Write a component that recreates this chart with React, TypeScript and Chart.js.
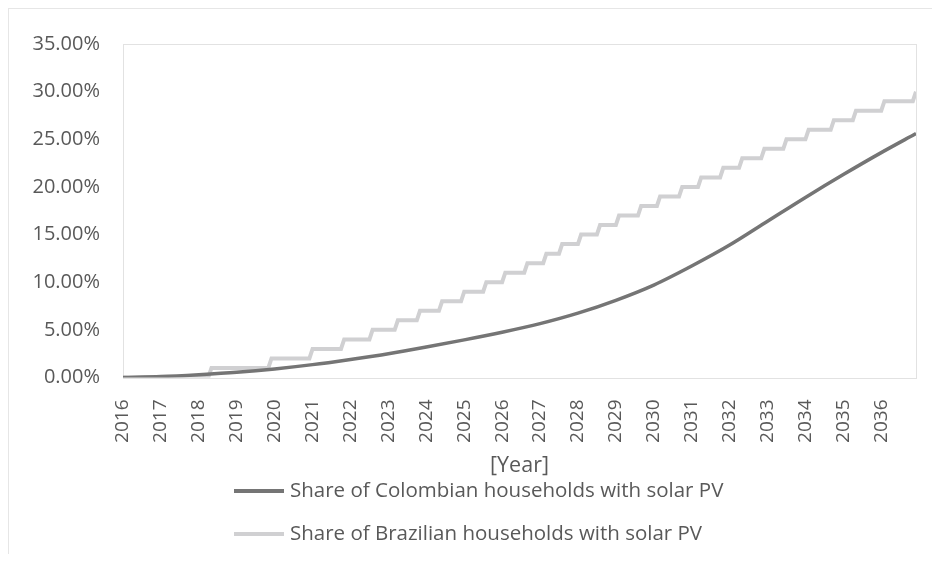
import { useEffect, useRef } from "react";
import { Chart, registerables } from "chart.js";

Chart.register(...registerables);

// ---- data ----
const startYear = 2016;
const lastMonthIndex = 251; // Dec 2036 (months counted from Jan 2016)
const yearTickLabels = [
  "2016", "2017", "2018", "2019", "2020", "2021", "2022", "2023", "2024", "2025",
  "2026", "2027", "2028", "2029", "2030", "2031", "2032", "2033", "2034", "2035", "2036",
];

const seriesNames = [
  "Share of Colombian households with solar PV",
  "Share of Brazilian households with solar PV",
];

// Colombian share (%) read at month indexes
const colombiaMonths = [0, 12, 24, 36, 48, 60, 72, 84, 96, 108, 120, 132, 144, 156, 168, 180, 192, 204, 216, 228, 240, 251];
const colombiaValues = [0, 0.1, 0.3, 0.55, 0.9, 1.35, 1.9, 2.5, 3.2, 3.95, 4.75, 5.65, 6.75, 8.1, 9.7, 11.7, 13.9, 16.4, 18.9, 21.3, 23.6, 25.6];

// Brazilian share (%) : month index at which each level is reached
const brazilStepMonths = [28, 47, 60, 70, 79, 87, 94, 101, 108, 115, 121, 128, 134, 139, 145, 151, 157, 164, 170, 177, 183, 190, 196, 203, 210, 217, 225, 232, 241, 251];
const brazilStepValues = [1, 2, 3, 4, 5, 6, 7, 8, 9, 10, 11, 12, 13, 14, 15, 16, 17, 18, 19, 20, 21, 22, 23, 24, 25, 26, 27, 28, 29, 30];

const yTickStep = 5;
const yMax = 35;

// ---- styles ----
const textColor = "#595959";
const fontFamily = "'Open Sans', 'Noto Sans', sans-serif";
const colColombia = "#757575";
const colBrazil = "#d0d0d2";

function buildColombia() {
  return colombiaMonths.map((m, i) => ({ x: m, y: colombiaValues[i] }));
}

function buildBrazil() {
  const pts: { x: number; y: number }[] = [{ x: 0, y: 0 }];
  let prev = 0;
  brazilStepMonths.forEach((m, i) => {
    pts.push({ x: m - 1, y: prev });
    pts.push({ x: m, y: brazilStepValues[i] });
    prev = brazilStepValues[i];
  });
  if (pts[pts.length - 1].x < lastMonthIndex) pts.push({ x: lastMonthIndex, y: prev });
  return pts;
}

const plotBorder = {
  id: "plotBorder",
  beforeDatasetsDraw(chart: any) {
    const { ctx, chartArea } = chart;
    ctx.save();
    ctx.strokeStyle = "#e2e2e2";
    ctx.lineWidth = 1;
    ctx.strokeRect(
      Math.round(chartArea.left) + 0.5,
      Math.round(chartArea.top) + 0.5,
      Math.round(chartArea.right - chartArea.left),
      Math.round(chartArea.bottom - chartArea.top)
    );
    ctx.restore();
  },
};

const stackedLegend = {
  id: "stackedLegend",
  afterDraw(chart: any) {
    const { ctx } = chart;
    const rows = [482, 525];
    ctx.save();
    chart.data.datasets.forEach((ds: any, i: number) => {
      const y = rows[i];
      ctx.strokeStyle = ds.borderColor;
      ctx.lineWidth = 4;
      ctx.beginPath();
      ctx.moveTo(225, y);
      ctx.lineTo(275, y);
      ctx.stroke();
      ctx.fillStyle = textColor;
      ctx.font = `20.5px ${fontFamily}`;
      ctx.textBaseline = "middle";
      ctx.textAlign = "left";
      ctx.fillText(ds.label, 281, y);
    });
    ctx.restore();
  },
};

export default function App() {
  const canvasRef = useRef<HTMLCanvasElement | null>(null);

  useEffect(() => {
    if (!canvasRef.current) return;
    const chart = new Chart(canvasRef.current, {
      type: "line",
      data: {
        datasets: [
          {
            label: seriesNames[0],
            data: buildColombia(),
            borderColor: colColombia,
            borderWidth: 3.5,
            pointRadius: 0,
            cubicInterpolationMode: "monotone",
            fill: false,
          },
          {
            label: seriesNames[1],
            data: buildBrazil(),
            borderColor: colBrazil,
            borderWidth: 4,
            pointRadius: 0,
            tension: 0,
            fill: false,
          },
        ],
      },
      options: {
        animation: false,
        responsive: true,
        maintainAspectRatio: false,
        parsing: false as any,
        layout: { padding: { top: 29, right: 16, bottom: 72, left: 0 } },
        plugins: {
          legend: { display: false },
          tooltip: { enabled: false },
        },
        scales: {
          x: {
            type: "linear",
            min: 0,
            max: lastMonthIndex,
            grid: { display: false, drawTicks: false },
            border: { display: false },
            ticks: {
              stepSize: 12,
              includeBounds: false,
              autoSkip: false,
              maxRotation: 90,
              minRotation: 90,
              padding: 22,
              color: textColor,
              font: { family: fontFamily, size: 19 },
              callback: (v: any) => {
                const idx = Math.round(Number(v) / 12);
                return yearTickLabels[idx] ?? String(startYear + idx);
              },
            },
            title: {
              display: true,
              text: "[Year]",
              color: textColor,
              font: { family: fontFamily, size: 21.5 },
              padding: { top: 0, bottom: 3 },
            },
            afterFit: (s: any) => {
              s.height = 104.5;
            },
          },
          y: {
            min: 0,
            max: yMax,
            grid: { display: false, drawTicks: false },
            border: { display: false },
            ticks: {
              stepSize: yTickStep,
              padding: 23,
              color: textColor,
              font: { family: fontFamily, size: 20 },
              callback: (v: any) => Number(v).toFixed(2) + "%",
            },
            afterFit: (s: any) => {
              s.width = 114;
            },
          },
        },
      },
      plugins: [plotBorder, stackedLegend],
    });
    return () => chart.destroy();
  }, []);

  return (
    <div
      style={{
        width: 924,
        height: 546,
        boxSizing: "border-box",
        borderLeft: "1px solid #e6e6e6",
        borderTop: "1px solid #e6e6e6",
        position: "relative",
        background: "#fff",
      }}
    >
      <canvas ref={canvasRef} />
    </div>
  );
}
